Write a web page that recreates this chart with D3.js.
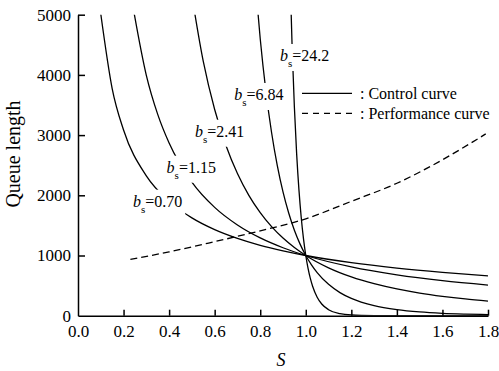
<!DOCTYPE html>
<html>
<head>
<meta charset="utf-8">
<script src="https://cdn.jsdelivr.net/npm/d3@7"></script>
<style>
body { margin: 0; background: #fff; }
.axis path, .axis line { stroke: #000; stroke-width: 1.5; fill: none; }
.curve { fill: none; stroke: #000; stroke-width: 1.3; }
</style>
</head>
<body>
<div id="chart"></div>
<script>
// control curves, queue length vs s, one array per b_s value
var s070 = [0.1, 0.15, 0.2, 0.3, 0.4, 0.5, 0.6, 0.7, 0.8, 0.9, 1.0, 1.2, 1.4, 1.6, 1.8];
var q070 = [5012, 3773, 3085, 2323, 1899, 1625, 1430, 1284, 1169, 1077, 1000, 880, 790, 720, 663];

var s115 = [0.24, 0.3, 0.35, 0.4, 0.5, 0.6, 0.7, 0.8, 0.9, 1.0, 1.2, 1.4, 1.6, 1.8];
var q115 = [5161, 3993, 3344, 2868, 2219, 1799, 1507, 1292, 1129, 1000, 811, 679, 582, 509];

var s241 = [0.5, 0.55, 0.6, 0.65, 0.7, 0.75, 0.8, 0.85, 0.9, 0.95, 1.0, 1.1, 1.2, 1.3, 1.4, 1.5, 1.6, 1.7, 1.8];
var q241 = [5314, 4224, 3425, 2824, 2362, 2000, 1712, 1479, 1289, 1132, 1000, 795, 644, 531, 444, 376, 322, 278, 243];

var s684 = [0.78, 0.8, 0.825, 0.85, 0.875, 0.9, 0.925, 0.95, 0.975, 1.0, 1.025, 1.05, 1.1, 1.15, 1.2, 1.3, 1.4, 1.5, 1.6, 1.7, 1.8];
var q684 = [5472, 4600, 3729, 3039, 2493, 2056, 1705, 1420, 1189, 1000, 845, 716, 521, 384, 287, 166, 100, 62, 40, 27, 18];

var s242 = [0.93, 0.94, 0.95, 0.96, 0.97, 0.98, 0.99, 1.0, 1.01, 1.02, 1.03, 1.05, 1.07, 1.1, 1.15, 1.2, 1.3, 1.4, 1.8];
var q242 = [5795, 4473, 3461, 2684, 2090, 1631, 1275, 1000, 786, 619, 489, 307, 194, 100, 34, 12, 2, 0, 0];

// performance curve (dashed)
var sPerf = [0.23, 0.4, 0.6, 0.8, 1.0, 1.2, 1.4, 1.6, 1.79];
var qPerf = [937, 1060, 1230, 1410, 1610, 1900, 2200, 2590, 3020];

// label text and anchor (s, queue length) for each control curve
var bsNames = ["0.70", "1.15", "2.41", "6.84", "24.2"];
var labelS = [0.241, 0.389, 0.514, 0.686, 0.887];
var labelQ = [1811, 2375, 2973, 3583, 4231];

var xTicks = [0, 0.2, 0.4, 0.6, 0.8, 1.0, 1.2, 1.4, 1.6, 1.8];
var yTicks = [0, 1000, 2000, 3000, 4000, 5000];

var FONT = "Liberation Serif";
var W = 499, H = 371;
var margin = {top: 14.7, right: 11, bottom: 55.3, left: 78};

var svg = d3.select("#chart").append("svg")
    .attr("width", W)
    .attr("height", H);

var x = d3.scaleLinear().domain([0, 1.8]).range([margin.left, W - margin.right]);
var y = d3.scaleLinear().domain([0, 5000]).range([H - margin.bottom, margin.top]);

svg.append("clipPath").attr("id", "plot")
  .append("rect")
    .attr("x", x(0)).attr("y", y(5000))
    .attr("width", x(1.8) - x(0)).attr("height", y(0) - y(5000));

var line = d3.line()
    .x(d => x(d[0]))
    .y(d => y(d[1]))
    .curve(d3.curveMonotoneX);

var control = [[s070, q070], [s115, q115], [s241, q241], [s684, q684], [s242, q242]];
var g = svg.append("g").attr("clip-path", "url(#plot)");

control.forEach(function(c) {
  g.append("path")
    .attr("class", "curve")
    .attr("d", line(d3.zip(c[0], c[1])));
});

g.append("path")
  .attr("class", "curve")
  .attr("stroke-dasharray", "7,4")
  .attr("d", line(d3.zip(sPerf, qPerf)));

// labels with white box that cuts the curves
bsNames.forEach(function(name, i) {
  var lg = svg.append("g");
  var t = lg.append("text")
      .attr("x", x(labelS[i]))
      .attr("y", y(labelQ[i]))
      .style("font-family", FONT)
      .style("font-size", "16px");
  t.append("tspan").style("font-style", "italic").text("b");
  t.append("tspan").style("font-size", "11px").attr("dy", 6).text("s");
  t.append("tspan").attr("dy", -6).text("=" + name);
  var bb = t.node().getBBox();
  lg.insert("rect", "text")
    .attr("x", bb.x - 3).attr("y", bb.y - 3)
    .attr("width", bb.width + 6).attr("height", bb.height + 5)
    .attr("fill", "#fff");
});

// axes
svg.append("g")
    .attr("class", "axis")
    .attr("transform", "translate(0," + y(0) + ")")
    .call(d3.axisBottom(x).tickValues(xTicks).tickSize(-6).tickSizeOuter(0).tickPadding(9)
      .tickFormat(d3.format(".1f")))
    .selectAll("text").style("font-family", FONT).style("font-size", "17px");

svg.append("g")
    .attr("class", "axis")
    .attr("transform", "translate(" + x(0) + ",0)")
    .call(d3.axisLeft(y).tickValues(yTicks).tickSize(-7).tickSizeOuter(0).tickPadding(7)
      .tickFormat(d3.format("d")))
    .selectAll("text").style("font-family", FONT).style("font-size", "17px");

svg.selectAll(".axis .tick").filter(d => d === 0).select("line").remove();

svg.append("text")
    .attr("transform", "rotate(-90)")
    .attr("x", -154)
    .attr("y", 20)
    .attr("text-anchor", "middle")
    .style("font-family", FONT)
    .style("font-size", "20px")
    .text("Queue length");

svg.append("text")
    .attr("x", 281)
    .attr("y", 366)
    .attr("text-anchor", "middle")
    .style("font-family", FONT)
    .style("font-size", "18px")
    .style("font-style", "italic")
    .text("S");

// legend
var legend = svg.append("g").attr("transform", "translate(302,93.3)");
legend.append("line").attr("x1", 0).attr("x2", 50).attr("y1", 0).attr("y2", 0)
    .attr("class", "curve");
legend.append("text").attr("x", 58).attr("y", 5.5)
    .style("font-family", FONT).style("font-size", "16px").text(": Control curve");
legend.append("line").attr("x1", 0).attr("x2", 50).attr("y1", 20).attr("y2", 20)
    .attr("class", "curve").attr("stroke-dasharray", "6,5");
legend.append("text").attr("x", 58).attr("y", 25.5)
    .style("font-family", FONT).style("font-size", "16px").text(": Performance curve");
</script>
</body>
</html>
